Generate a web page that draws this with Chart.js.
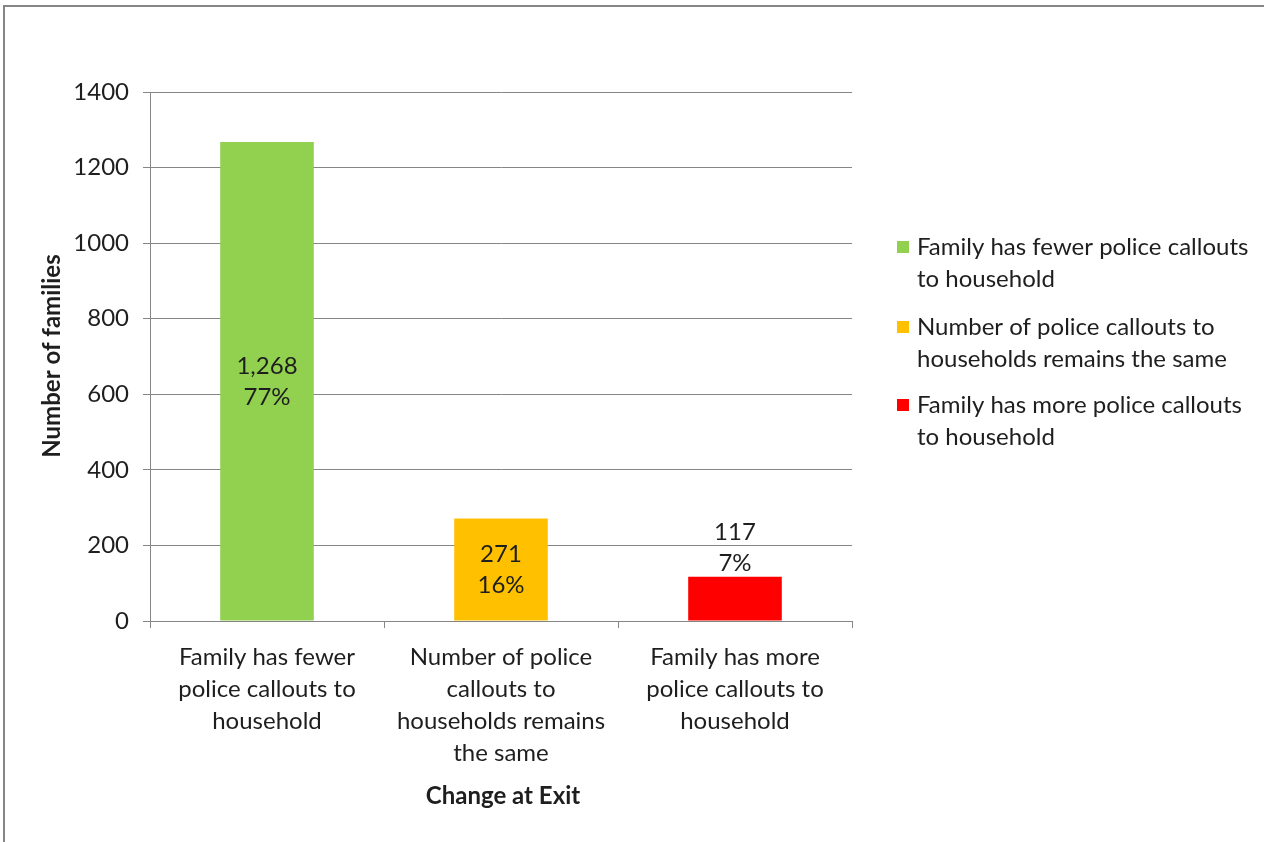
<!DOCTYPE html>
<html>
<head>
<meta charset="utf-8">
<script src="https://cdn.jsdelivr.net/npm/chart.js@4"></script>
<style>
  html, body { margin: 0; padding: 0; background: #fff; overflow: hidden; }
  #frame { position: absolute; left: 3px; top: 5px; width: 1280px; height: 860px; border: 2px solid #868686; }
  #wrap { position: absolute; left: 0; top: 0; width: 1264px; height: 842px; }
</style>
</head>
<body>
<div id="frame"></div>
<div id="wrap"><canvas id="myChart" width="1264" height="842"></canvas></div>
<script>
// chart data
const categories = [
    ['Family has fewer', 'police callouts to', 'household'],
    ['Number of police', 'callouts to', 'households remains', 'the same'],
    ['Family has more', 'police callouts to', 'household']
];
const legendLabels = [
    ['Family has fewer police callouts', 'to household'],
    ['Number of police callouts to', 'households remains the same'],
    ['Family has more police callouts', 'to household']
];
const familyCounts = [1268, 271, 117];
const percentLabels = ['77%', '16%', '7%'];
const yTicks = [0, 200, 400, 600, 800, 1000, 1200, 1400];

const barColors = ['#92d050', '#ffc000', '#ff0000'];
const fontFamily = 'Lato, "Open Sans", sans-serif';
const fontSize = 24;
const textColor = '#1e1e1e';

// Draws value labels, axis titles and the legend on the canvas
const extrasPlugin = {
    id: 'extras',
    afterDraw(chart) {
        const ctx = chart.ctx;
        const meta = chart.getDatasetMeta(0);
        ctx.save();
        ctx.fillStyle = textColor;
        ctx.font = fontSize + 'px ' + fontFamily;
        ctx.textAlign = 'center';
        ctx.textBaseline = 'middle';

        // data labels
        meta.data.forEach((bar, i) => {
            const txt = [familyCounts[i].toLocaleString('en-US'), percentLabels[i]];
            const h = bar.base - bar.y;
            let cy;
            if (h > 80) {
                cy = (bar.y + bar.base) / 2;
            } else {
                cy = bar.y - 30;
            }
            ctx.fillText(txt[0], bar.x, cy - 15);
            ctx.fillText(txt[1], bar.x, cy + 16);
        });

        // axis titles
        ctx.font = 'bold ' + fontSize + 'px ' + fontFamily;
        ctx.fillText('Change at Exit', 503, 796);
        ctx.save();
        ctx.translate(52, 356);
        ctx.rotate(-Math.PI / 2);
        ctx.fillText('Number of families', 0, 0);
        ctx.restore();

        // legend
        ctx.font = fontSize + 'px ' + fontFamily;
        ctx.textAlign = 'left';
        const legendTop = [247, 327, 405];
        legendLabels.forEach((lines, i) => {
            ctx.fillStyle = barColors[i];
            ctx.fillRect(897, legendTop[i] - 6, 12, 12);
            ctx.fillStyle = textColor;
            lines.forEach((line, j) => {
                ctx.fillText(line, 917, legendTop[i] + j * 32);
            });
        });
        ctx.restore();
    }
};

new Chart(document.getElementById('myChart'), {
    type: 'bar',
    data: {
        labels: categories,
        datasets: [{
            label: 'Number of families',
            data: familyCounts,
            backgroundColor: barColors,
            borderWidth: 0,
            categoryPercentage: 1,
            barPercentage: 0.4
        }]
    },
    options: {
        responsive: false,
        animation: false,
        layout: { padding: { left: 0, top: 92, right: 412, bottom: 0 } },
        plugins: {
            legend: { display: false },
            tooltip: { enabled: false }
        },
        scales: {
            x: {
                afterFit: (s) => { s.height = 221; },
                grid: {
                    offset: true,
                    drawOnChartArea: false,
                    color: '#868686',
                    tickLength: 7
                },
                border: { color: '#868686' },
                ticks: {
                    color: textColor,
                    padding: 13,
                    font: { family: fontFamily, size: fontSize, lineHeight: '32px' },
                    maxRotation: 0
                }
            },
            y: {
                min: 0,
                max: 1400,
                afterFit: (s) => { s.width = 150; },
                afterBuildTicks: (s) => { s.ticks = yTicks.map(v => ({ value: v })); },
                grid: { color: '#868686', tickLength: 7 },
                border: { color: '#868686' },
                ticks: {
                    color: textColor,
                    padding: 14,
                    callback: (v) => String(v),
                    font: { family: fontFamily, size: fontSize }
                }
            }
        }
    },
    plugins: [extrasPlugin]
});
</script>
</body>
</html>
